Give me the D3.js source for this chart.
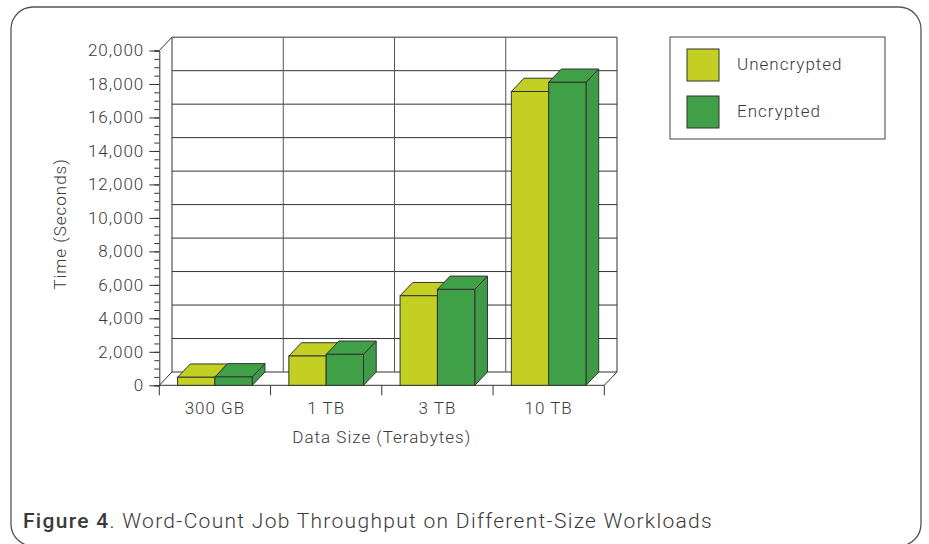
<!DOCTYPE html>
<html>
<head>
<meta charset="utf-8">
<script src="https://cdn.jsdelivr.net/npm/d3@7"></script>
<style>
  html, body { margin: 0; padding: 0; background: #fff; }
  svg { display: block; }
  text { font-family: Roboto, "Open Sans", sans-serif; font-weight: 300; fill: #3a3a3a; letter-spacing: 1px; }
</style>
</head>
<body>
<div id="chart"></div>
<script>
// data (seconds)
const categories = ['300 GB', '1 TB', '3 TB', '10 TB'];
const seriesNames = ['Unencrypted', 'Encrypted'];
const unencrypted = [480, 1750, 5350, 17550];
const encrypted = [500, 1850, 5730, 18100];
const yTicks = d3.range(0, 20001, 2000);
const yMinorTicks = d3.range(0, 20001, 500);

const W = 929, H = 544;
const colors = { Unencrypted: '#c3cf23', Encrypted: '#40a047' };
const DX = 12.7, DY = 13.3; // 3d depth offset

const svg = d3.select('#chart').append('svg')
  .attr('width', W).attr('height', H);

// rounded frame
svg.append('rect')
  .attr('x', 11).attr('y', 7).attr('width', 910).attr('height', 539)
  .attr('rx', 22).attr('ry', 22)
  .attr('fill', 'none').attr('stroke', '#555').attr('stroke-width', 1.3);

const x = d3.scaleBand().domain(categories).range([159.3, 604.3]);
const xs = d3.scaleBand().domain(seriesNames).range([0, x.bandwidth()]).paddingOuter(0.49);
const y = d3.scaleLinear().domain([0, 20000]).range([385.3, 50.5]);

const [x0, x1] = x.range();
const g = svg.append('g');

// back wall gridlines
g.append('g').selectAll('line')
  .data(yTicks)
  .join('line')
  .attr('x1', x0 + DX).attr('x2', x1 + DX)
  .attr('y1', (d) => y(d) - DY).attr('y2', (d) => y(d) - DY)
  .attr('stroke', '#333').attr('stroke-width', 1);

g.append('g').selectAll('line')
  .data(categories.slice(1))
  .join('line')
  .attr('x1', (d) => x(d) + DX).attr('x2', (d) => x(d) + DX)
  .attr('y1', y(20000) - DY).attr('y2', y(0) - DY)
  .attr('stroke', '#555').attr('stroke-width', 1);

// wall edges
const edge = (a, b, c, d) => g.append('line')
  .attr('x1', a).attr('y1', b).attr('x2', c).attr('y2', d)
  .attr('stroke', '#333').attr('stroke-width', 1);
edge(x0 + DX, y(20000) - DY, x0 + DX, y(0) - DY);
edge(x1 + DX, y(20000) - DY, x1 + DX, y(0) - DY);
edge(x0, y(20000), x0 + DX, y(20000) - DY);
edge(x0, y(0), x0 + DX, y(0) - DY);
edge(x1, y(0), x1 + DX, y(0) - DY);
edge(x0, y(0), x1, y(0));

// bars
const rows = categories.map((c, i) => ({ cat: c, values: [
  { name: 'Unencrypted', v: unencrypted[i] },
  { name: 'Encrypted', v: encrypted[i] }
]}));

const bars = g.append('g').selectAll('g')
  .data(rows)
  .join('g')
  .attr('transform', (d) => `translate(${x(d.cat)},0)`)
  .selectAll('g')
  .data((d) => d.values)
  .join('g');

const bw = xs.bandwidth();
bars.each(function (d) {
  const b = d3.select(this);
  const bx = xs(d.name), top = y(d.v), base = y(0);
  const col = colors[d.name];
  // side
  b.append('path')
    .attr('d', `M${bx + bw},${top} L${bx + bw + DX},${top - DY} L${bx + bw + DX},${base - DY} L${bx + bw},${base} Z`)
    .attr('fill', d3.color(col).darker(0.1)).attr('stroke', '#333').attr('stroke-width', 1)
    .attr('stroke-linejoin', 'round');
  // top
  b.append('path')
    .attr('d', `M${bx},${top} L${bx + DX},${top - DY} L${bx + bw + DX},${top - DY} L${bx + bw},${top} Z`)
    .attr('fill', col).attr('stroke', '#333').attr('stroke-width', 1)
    .attr('stroke-linejoin', 'round');
  // front
  b.append('rect')
    .attr('x', bx).attr('y', top).attr('width', bw).attr('height', base - top)
    .attr('fill', col).attr('stroke', '#333').attr('stroke-width', 1);
});

// y axis: minor ticks, then major ticks with labels
const yAxis = g.append('g')
  .attr('transform', `translate(${x0},0)`)
  .call(d3.axisLeft(y).tickValues(yMinorTicks).tickSize(5).tickFormat(''));
yAxis.select('.domain').attr('stroke', '#333');
yAxis.selectAll('.tick line').attr('stroke', '#333');

const yAxisMajor = g.append('g')
  .attr('transform', `translate(${x0},0)`)
  .call(d3.axisLeft(y).tickValues(yTicks).tickSize(10).tickPadding(5).tickFormat(d3.format(',')));
yAxisMajor.select('.domain').remove();
yAxisMajor.selectAll('.tick line').attr('stroke', '#333');
yAxisMajor.selectAll('.tick text')
  .style('font-size', '17px').style('font-family', 'Roboto, sans-serif').attr('fill', '#3a3a3a');

// x axis
const xAxis = g.append('g')
  .attr('transform', `translate(0,${y(0)})`)
  .call(d3.axisBottom(x).tickSize(0).tickPadding(17));
xAxis.select('.domain').remove();
xAxis.selectAll('.tick text')
  .style('font-size', '17px').style('font-family', 'Roboto, sans-serif').attr('fill', '#3a3a3a');

g.append('g').selectAll('line')
  .data([...categories.map((c) => x(c)), x1])
  .join('line')
  .attr('x1', (d) => d).attr('x2', (d) => d)
  .attr('y1', y(0)).attr('y2', y(0) + 10)
  .attr('stroke', '#333');

// axis titles
svg.append('text')
  .attr('transform', 'translate(66,224) rotate(-90)')
  .attr('text-anchor', 'middle')
  .style('font-size', '17px')
  .text('Time (Seconds)');

svg.append('text')
  .attr('x', (x0 + x1) / 2).attr('y', 443)
  .attr('text-anchor', 'middle')
  .style('font-size', '17px')
  .text('Data Size (Terabytes)');

// legend
const legend = svg.append('g');
legend.append('rect')
  .attr('x', 670).attr('y', 37).attr('width', 215).attr('height', 102)
  .attr('fill', '#fff').attr('stroke', '#444').attr('stroke-width', 1);
const li = legend.selectAll('g')
  .data(seriesNames)
  .join('g')
  .attr('transform', (d, i) => `translate(687,${49 + i * 47})`);
li.append('rect')
  .attr('width', 32).attr('height', 32)
  .attr('fill', (d) => colors[d]).attr('stroke', '#333');
li.append('text')
  .attr('x', 50).attr('y', 15).attr('dy', '0.35em')
  .style('font-size', '17px')
  .text((d) => d);

// caption
const cap = svg.append('text')
  .attr('x', 23).attr('y', 528)
  .style('font-size', '21px')
  .style('letter-spacing', '1.3px');
cap.append('tspan').style('font-weight', 500).text('Figure 4');
cap.append('tspan').text('. Word-Count Job Throughput on Different-Size Workloads');
</script>
</body>
</html>
